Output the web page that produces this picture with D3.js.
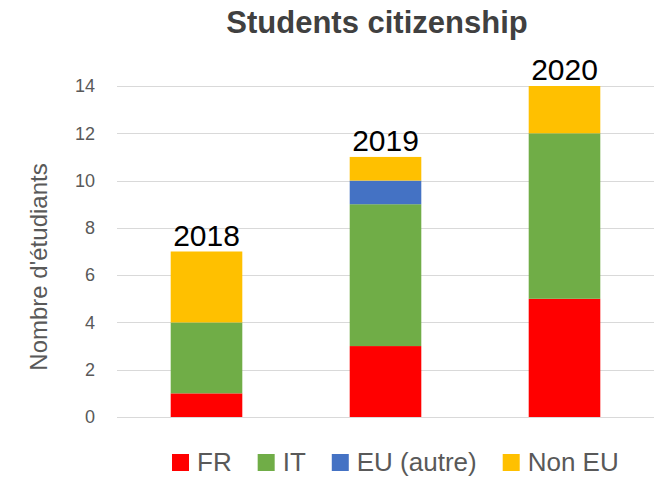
<!DOCTYPE html>
<html>
<head>
<meta charset="utf-8">
<script src="https://cdn.jsdelivr.net/npm/d3@7"></script>
<style>
  html, body { margin: 0; padding: 0; background: #fff; }
  svg { display: block; font-family: "Liberation Sans", Arial, sans-serif; }
</style>
</head>
<body>
<svg id="chart" width="662" height="477"></svg>
<script>
// Student counts per academic year, by citizenship group
const years = ["2018", "2019", "2020"];
const groups = ["FR", "IT", "EU (autre)", "Non EU"];
const fr = [1, 3, 5];
const it = [3, 6, 7];
const euAutre = [0, 1, 0];
const nonEu = [3, 1, 2];
const yTicks = [0, 2, 4, 6, 8, 10, 12, 14];
const colors = ["#FF0000", "#70AD47", "#4472C4", "#FFC000"];

const rows = years.map((y, i) => ({
  year: y,
  "FR": fr[i],
  "IT": it[i],
  "EU (autre)": euAutre[i],
  "Non EU": nonEu[i]
}));

const W = 662, H = 477;
const margin = { top: 86, right: 8, bottom: 60, left: 117 };
const svg = d3.select("#chart");

const x = d3.scaleBand()
  .domain(years)
  .range([margin.left, W - margin.right])
  .paddingInner(0.6)
  .paddingOuter(0.3);

const y = d3.scaleLinear()
  .domain([0, 14])
  .range([H - margin.bottom, margin.top]);

const color = d3.scaleOrdinal().domain(groups).range(colors);

// Horizontal gridlines
svg.append("g")
  .selectAll("line")
  .data(yTicks)
  .join("line")
  .attr("x1", margin.left)
  .attr("x2", W - margin.right)
  .attr("y1", d => Math.round(y(d)) + 0.5)
  .attr("y2", d => Math.round(y(d)) + 0.5)
  .attr("stroke", "#d9d9d9")
  .attr("stroke-width", 1);

// Y axis tick labels
const yAxis = d3.axisLeft(y).tickValues(yTicks).tickSize(0).tickPadding(0);
const gy = svg.append("g")
  .attr("transform", `translate(95,0)`)
  .call(yAxis);
gy.select(".domain").remove();
gy.selectAll("text")
  .attr("fill", "#595959")
  .style("font-size", "18px")
  .style("font-family", "'Liberation Sans', Arial, sans-serif");

// Stacked bars
const stack = d3.stack().keys(groups);
const series = stack(rows);

svg.append("g")
  .selectAll("g")
  .data(series)
  .join("g")
  .attr("fill", d => color(d.key))
  .selectAll("rect")
  .data(d => d.filter(s => s[1] - s[0] > 0))
  .join("rect")
  .attr("x", d => x(d.data.year))
  .attr("width", x.bandwidth())
  .attr("y", d => y(d[1]))
  .attr("height", d => y(d[0]) - y(d[1]));

// Year labels above each bar
svg.append("g")
  .selectAll("text")
  .data(rows)
  .join("text")
  .attr("x", d => x(d.year) + x.bandwidth() / 2)
  .attr("y", d => y(d["FR"] + d["IT"] + d["EU (autre)"] + d["Non EU"]) - 6)
  .attr("text-anchor", "middle")
  .attr("fill", "#000")
  .style("font-size", "30px")
  .text(d => d.year);

// Title
svg.append("text")
  .attr("x", 377)
  .attr("y", 33)
  .attr("text-anchor", "middle")
  .attr("fill", "#404040")
  .style("font-size", "31px")
  .style("font-weight", "bold")
  .text("Students citizenship");

// Y axis title
svg.append("text")
  .attr("transform", "translate(47,267) rotate(-90)")
  .attr("text-anchor", "middle")
  .attr("fill", "#595959")
  .style("font-size", "24px")
  .text("Nombre d'étudiants");

// Legend
const legend = svg.append("g");
let lx = 172;
groups.forEach((g, i) => {
  legend.append("rect")
    .attr("x", lx)
    .attr("y", 454)
    .attr("width", 17)
    .attr("height", 17)
    .attr("fill", colors[i]);
  const t = legend.append("text")
    .attr("x", lx + 17 + 8)
    .attr("y", 471)
    .attr("fill", "#595959")
    .style("font-size", "26px")
    .text(g);
  lx += 17 + 8 + t.node().getComputedTextLength() + 26;
});
</script>
</body>
</html>
